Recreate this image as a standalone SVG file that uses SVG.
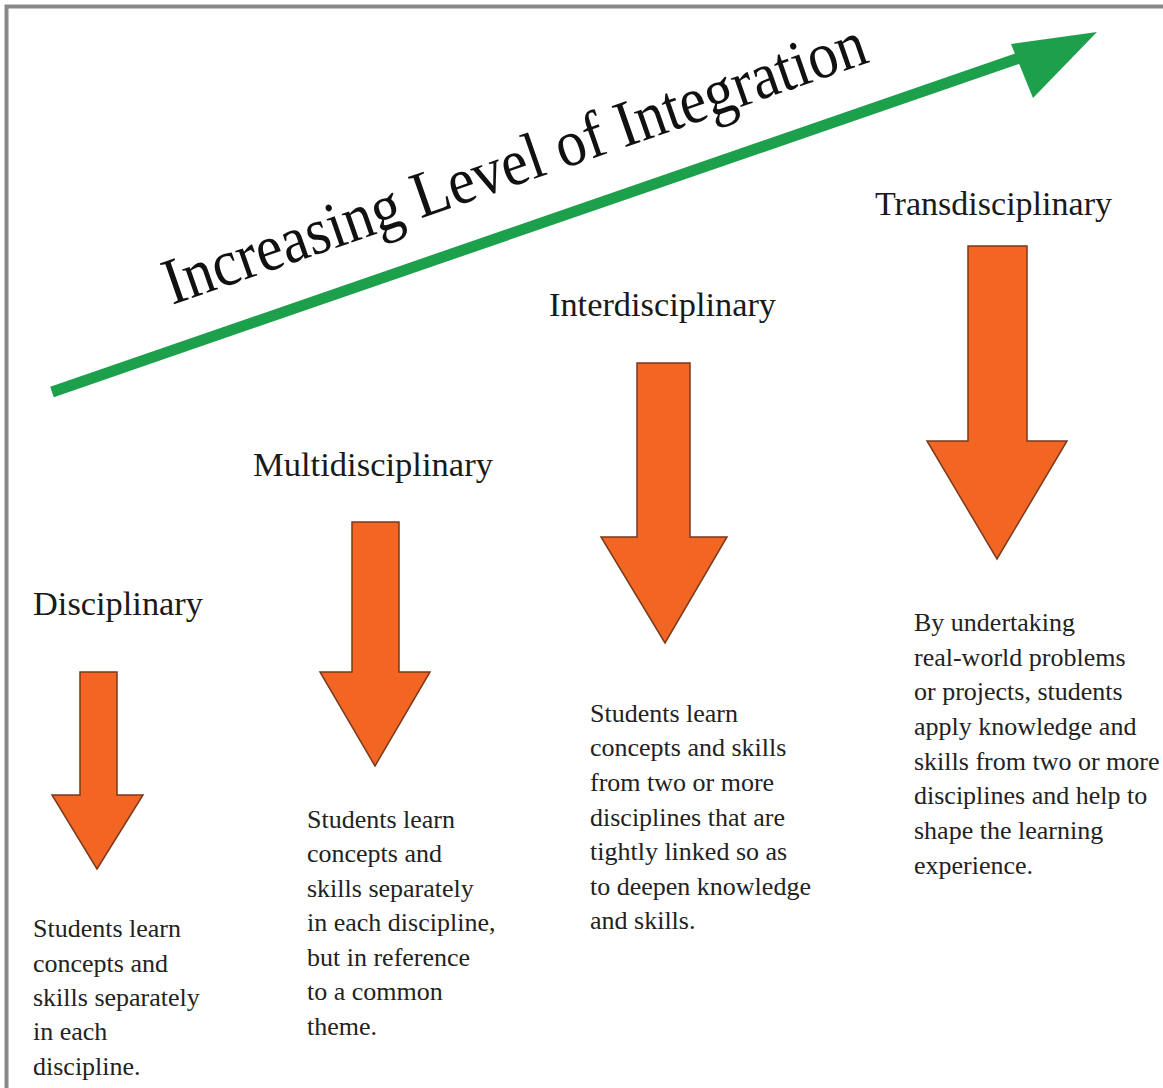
<svg xmlns="http://www.w3.org/2000/svg" width="1163" height="1088" viewBox="0 0 1163 1088">
<defs>
<style>
.arrow{fill:#F26522;stroke:#7a3a1e;stroke-width:1.5;stroke-linejoin:miter}
.head{font-family:"Liberation Serif","Times New Roman",serif;font-size:33px;fill:#1a1a1a}
.body{font-family:"Liberation Serif","Times New Roman",serif;font-size:26px;fill:#222}
.title{font-family:"Liberation Serif","Times New Roman",serif;font-size:66px;fill:#111}
</style>
</defs>
<rect x="0" y="0" width="1163" height="1088" fill="#fff"/>
<path d="M6.5 1088 V6.5 H1163" fill="none" stroke="#888" stroke-width="4"/>

<g id="connectors">
<line x1="52" y1="392" x2="1025" y2="56" stroke="#1DA04C" stroke-width="11"/>
<polygon points="1097,32 1011,44 1033,98" fill="#1DA04C"/>
</g>

<g id="title">
<text class="title" x="0" y="0" transform="translate(172,305) rotate(-19.2)" textLength="740" lengthAdjust="spacingAndGlyphs">Increasing Level of Integration</text>
</g>

<g id="disciplinary">
<text class="head" x="33" y="615" textLength="170" lengthAdjust="spacingAndGlyphs">Disciplinary</text>
<polygon class="arrow" points="80,672 117,672 117,795 143,795 97,869 52,795 80,795"/>
<text class="body">
<tspan x="33" y="937">Students learn</tspan>
<tspan x="33" y="972">concepts and</tspan>
<tspan x="33" y="1006">skills separately</tspan>
<tspan x="33" y="1040">in each</tspan>
<tspan x="33" y="1075">discipline.</tspan>
</text>
</g>

<g id="multidisciplinary">
<text class="head" x="253" y="476" textLength="240" lengthAdjust="spacingAndGlyphs">Multidisciplinary</text>
<polygon class="arrow" points="352,522 399,522 399,672 430,672 375,766 320,672 352,672"/>
<text class="body">
<tspan x="307" y="828">Students learn</tspan>
<tspan x="307" y="862">concepts and</tspan>
<tspan x="307" y="897">skills separately</tspan>
<tspan x="307" y="931">in each discipline,</tspan>
<tspan x="307" y="966">but in reference</tspan>
<tspan x="307" y="1000">to a common</tspan>
<tspan x="307" y="1035">theme.</tspan>
</text>
</g>

<g id="interdisciplinary">
<text class="head" x="549" y="316" textLength="227" lengthAdjust="spacingAndGlyphs">Interdisciplinary</text>
<polygon class="arrow" points="637,363 690,363 690,537 727,537 665,643 601,537 637,537"/>
<text class="body">
<tspan x="590" y="722">Students learn</tspan>
<tspan x="590" y="756">concepts and skills</tspan>
<tspan x="590" y="791">from two or more</tspan>
<tspan x="590" y="826">disciplines that are</tspan>
<tspan x="590" y="860">tightly linked so as</tspan>
<tspan x="590" y="895">to deepen knowledge</tspan>
<tspan x="590" y="929">and skills.</tspan>
</text>
</g>

<g id="transdisciplinary">
<text class="head" x="875" y="215" textLength="237" lengthAdjust="spacingAndGlyphs">Transdisciplinary</text>
<polygon class="arrow" points="968,246 1027,246 1027,441 1067,441 997,559 927,441 968,441"/>
<text class="body">
<tspan x="914" y="631">By undertaking</tspan>
<tspan x="914" y="666">real-world problems</tspan>
<tspan x="914" y="700">or projects, students</tspan>
<tspan x="914" y="735">apply knowledge and</tspan>
<tspan x="914" y="770">skills from two or more</tspan>
<tspan x="914" y="804">disciplines and help to</tspan>
<tspan x="914" y="839">shape the learning</tspan>
<tspan x="914" y="874">experience.</tspan>
</text>
</g>
</svg>
